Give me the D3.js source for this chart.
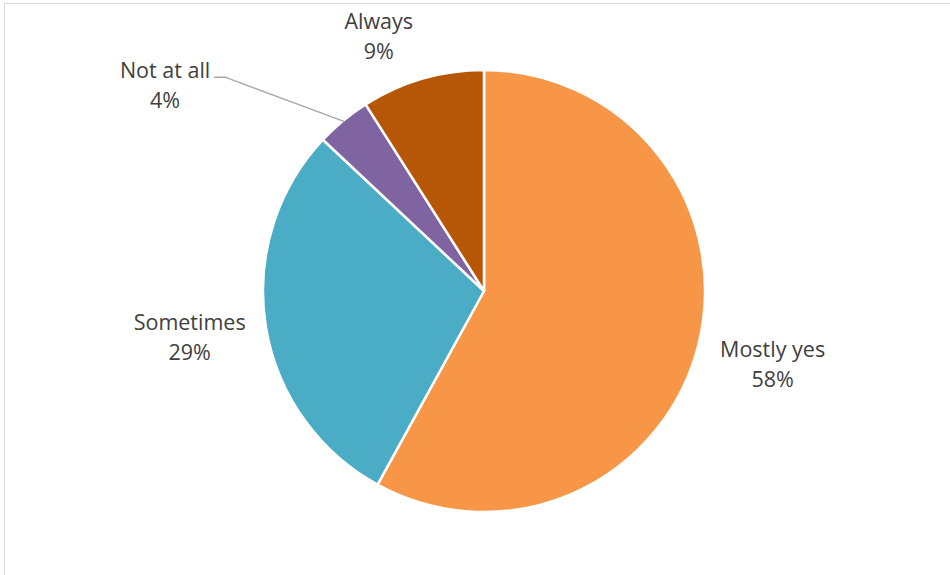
<!DOCTYPE html>
<html><head><meta charset="utf-8">
<script src="https://cdn.jsdelivr.net/npm/d3@7"></script>
<style>body{margin:0;background:#fff}svg{display:block}</style>
</head><body>
<svg id="c" width="950" height="575"></svg>
<script>
const categories = ["Mostly yes", "Sometimes", "Not at all", "Always"];
const values = [58, 29, 4, 9];
const colors = ["#F79646", "#4BACC6", "#8064A2", "#B65708"];

// layout (not data)
const cx = 484, cy = 291, R = 221;
const labelLayout = [
  {r: 298, dx: 0, dy: 0},
  {r: 298, dx: 0, dy: 0},
  {r: 379, dx: 0, dy: 0, angle: 302.7, leader: true},
  {r: 275, dx: 0, dy: 0, angle: 337.5}
];

const svg = d3.select("#c");
svg.append("line").attr("x1",4.5).attr("x2",950).attr("y1",3.5).attr("y2",3.5).attr("stroke","#d9d9d9");
svg.append("line").attr("x1",4.5).attr("x2",4.5).attr("y1",3.5).attr("y2",575).attr("stroke","#d9d9d9");

const pie = d3.pie().sort(null).value(d => d)(values);
const arc = d3.arc().innerRadius(0).outerRadius(R);
const g = svg.append("g").attr("transform", `translate(${cx},${cy})`);
g.selectAll("path").data(pie).join("path")
  .attr("d", arc).attr("fill", (d,i) => colors[i])
  .attr("stroke", "#fff").attr("stroke-width", 2.5).attr("stroke-linejoin","round");

const fmt = d3.format(".0%");
const total = d3.sum(values);
pie.forEach((d, i) => {
  const L = labelLayout[i];
  const mid = L.angle !== undefined ? L.angle * Math.PI / 180 : (d.startAngle + d.endAngle) / 2;
  const x = Math.sin(mid) * L.r + L.dx, y = -Math.cos(mid) * L.r + L.dy;
  if (L.leader) {
    const m = (d.startAngle + d.endAngle) / 2;
    const ex = Math.sin(m) * (R - 6), ey = -Math.cos(m) * (R - 6);
    g.append("polyline")
      .attr("points", [[x + 49, y - 9], [x + 60, y - 9], [ex - 3, ey - 4]].map(p => p.join(",")).join(" "))
      .attr("fill", "none").attr("stroke", "#a6a6a6").attr("stroke-width", 1.3);
  }
  const t = g.append("text").attr("text-anchor", "middle")
    .attr("font-family", "'Open Sans', sans-serif").attr("font-size", 21.5).attr("fill", "#404040");
  t.append("tspan").attr("x", x).attr("y", y - 8).text(categories[i]);
  t.append("tspan").attr("x", x).attr("y", y + 22).text(fmt(d.value / total));
});
</script>
</body></html>
